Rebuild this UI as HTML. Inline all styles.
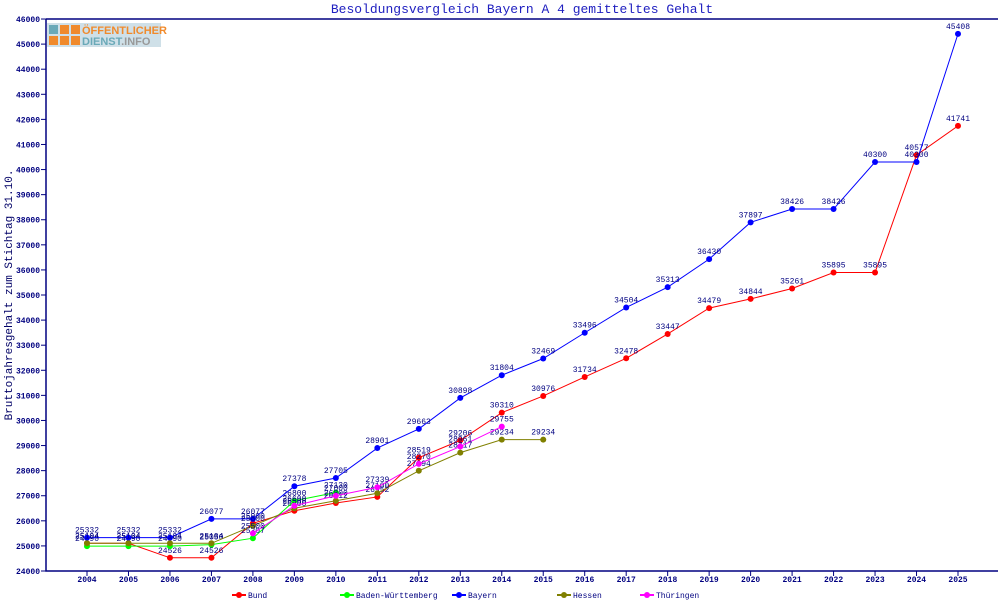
<!DOCTYPE html><html><head><meta charset="utf-8"><style>body{margin:0;background:#fff}svg{display:block}</style></head><body>
<svg id="s" width="1000" height="600" xmlns="http://www.w3.org/2000/svg" font-family="Liberation Mono, DejaVu Sans Mono, monospace">
<rect x="47" y="23" width="114" height="24" fill="#cfe0e8"/>
<rect x="49" y="25" width="9" height="9" fill="#6aa9b8"/><rect x="60" y="25" width="9" height="9" fill="#f08a2c"/><rect x="49" y="36" width="9" height="9" fill="#f08a2c"/><rect x="60" y="36" width="9" height="9" fill="#f08a2c"/><rect x="71" y="36" width="9" height="9" fill="#f08a2c"/><rect x="71" y="25" width="9" height="9" fill="#f08a2c"/>
<text x="82" y="34" font-size="11" font-weight="bold" fill="#f08a2c" font-family="Liberation Sans, sans-serif">ÖFFENTLICHER</text>
<text x="82" y="45" font-size="11" font-weight="bold" fill="#6aa9b8" font-family="Liberation Sans, sans-serif">DIENST<tspan fill="#999">.INFO</tspan></text>
<text x="522" y="13" font-size="13" fill="#2020c0" text-anchor="middle">Besoldungsvergleich Bayern A 4 gemitteltes Gehalt</text>
<text transform="translate(12,295) rotate(-90)" font-size="11" fill="#000066" text-anchor="middle">Bruttojahresgehalt zum Stichtag 31.10.</text>
<g id="g"></g>
</svg>
<script>
var g=document.getElementById('g'),h='';
function Y(v){return 571-(v-24000)*0.02509}
function X(i){return 87+i*41.476}
h+='<path d="M46 19H998M46 19V571H998" fill="none" stroke="#000080" stroke-width="1.5"/>';
for(var v=24000;v<=46000;v+=1000){var y=Y(v);h+='<line x1="41" x2="46" y1="'+y+'" y2="'+y+'" stroke="#000080"/><text x="40" y="'+(y+3)+'" font-size="8" font-weight="bold" fill="#000080" text-anchor="end">'+v+'</text>';}
for(var i=0;i<22;i++){h+='<line x1="'+X(i)+'" x2="'+X(i)+'" y1="571" y2="576" stroke="#000080"/><text x="'+X(i)+'" y="582" font-size="8" font-weight="bold" fill="#000080" text-anchor="middle">'+(2004+i)+'</text>';}
var S=[
['#ff0000','Bund',0,[25104,25104,24526,24526,25900,26400,26712,26952,28519,29206,30310,30976,31734,32478,33447,34479,34844,35261,35895,35895,40577,41741],232],
['#00ff00','Baden-Württemberg',0,[24990,24990,24990,25050,25307,26800,27130],340],
['#0000ff','Bayern',0,[25332,25332,25332,26077,26077,27378,27705,28901,29663,30898,31804,32469,33496,34504,35313,36430,37897,38426,38426,40300,40300,45408],452],
['#808000','Hessen',0,[25104,25104,25104,25104,25800,26500,26800,27100,27994,28717,29234,29234],557],
['#ff00ff','Thüringen',4,[25500,26600,27000,27339,28270,28961,29755],640]];
S.forEach(function(s){var p='';s[3].forEach(function(v,k){p+=(k?'L':'M')+X(k+s[2])+' '+Y(v)});
h+='<path d="'+p+'" fill="none" stroke="'+s[0]+'" stroke-width="1"/>';
s[3].forEach(function(v,k){var x=X(k+s[2]),y=Y(v);h+='<circle cx="'+x+'" cy="'+y+'" r="3" fill="'+s[0]+'"/><text x="'+x+'" y="'+(y-5)+'" font-size="8" fill="#000080" text-anchor="middle">'+v+'</text>'});
var lx=s[4];h+='<line x1="'+lx+'" x2="'+(lx+14)+'" y1="595" y2="595" stroke="'+s[0]+'" stroke-width="2"/><circle cx="'+(lx+7)+'" cy="595" r="3" fill="'+s[0]+'"/><text x="'+(lx+16)+'" y="598" font-size="8" fill="#000080">'+s[1]+'</text>';});
g.innerHTML=h;
</script>
</body></html>
